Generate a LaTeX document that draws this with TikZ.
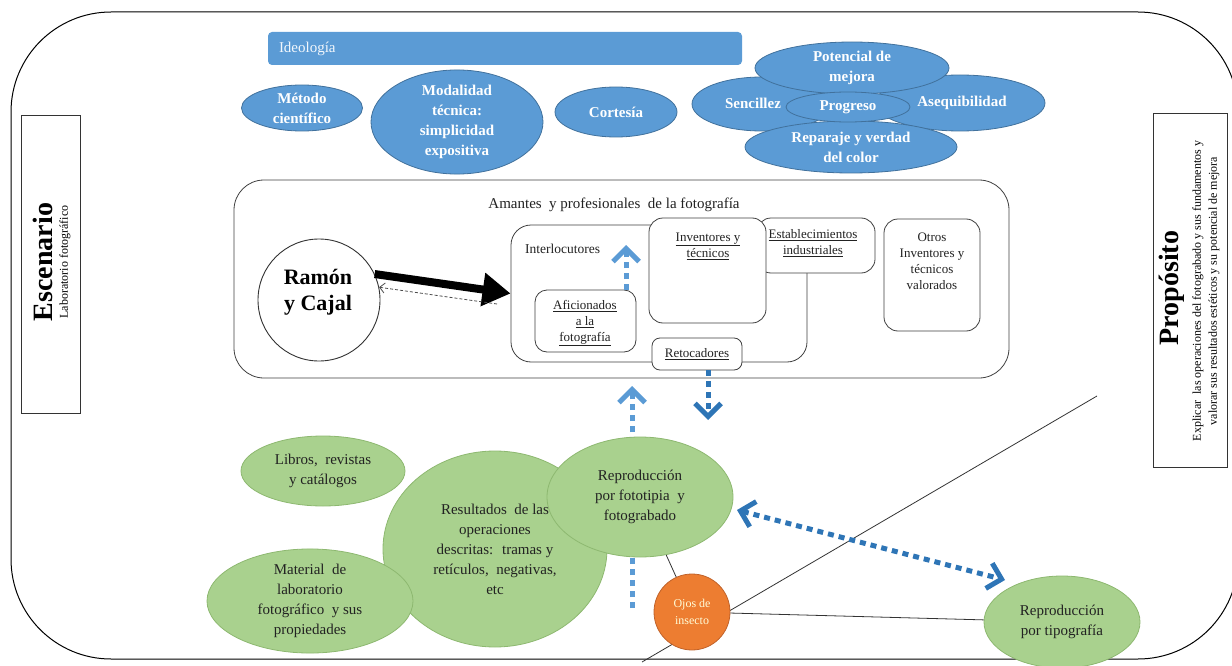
\documentclass[tikz,border=0pt]{standalone}
\usepackage{fontspec}
\setmainfont{Liberation Serif}
\usetikzlibrary{shapes.geometric,arrows.meta}
\definecolor{bfill}{HTML}{5B9BD5}
\definecolor{bline}{HTML}{41719C}
\definecolor{barrow}{HTML}{2E75B6}
\definecolor{lbarrow}{HTML}{5B9BD5}
\definecolor{gfill}{HTML}{A9D18E}
\definecolor{gline}{HTML}{8DB870}
\definecolor{ofill}{HTML}{ED7D31}
\definecolor{oline}{HTML}{C0622A}
\definecolor{ink}{HTML}{222222}
\newcommand\fsz[2]{\fontsize{#1}{#2}\selectfont}
\tikzset{Chev/.tip={Straight Barb[length=13pt, width=26pt]}}
\begin{document}
\begin{tikzpicture}[x=1pt,y=-1pt,
  blueell/.style={ellipse, draw=bline, line width=0.8pt, fill=bfill, text=white,
    font=\bfseries\fsz{15}{20}, align=center, inner sep=0pt},
  greenell/.style={ellipse, draw=gline, line width=0.8pt, fill=gfill, text=ink,
    font=\fsz{15}{20}, align=center, inner sep=0pt},
  box/.style={draw=black!75, fill=white, rounded corners=14pt, line width=0.8pt,
    inner sep=0pt},
  boxtext/.style={font=\fsz{13}{16}, text=ink, align=center, inner sep=0pt},
  sidebox/.style={draw=black!80, line width=0.8pt, fill=white, inner sep=0pt},
  dashblue/.style={line width=5pt, dash pattern=on 6pt off 5pt},
  thin/.style={draw=black!80, line width=0.8pt}]
\useasboundingbox (0,0) rectangle (1232,666);

% outer frame
\draw[line width=1pt, rounded corners=100pt] (11,12) rectangle (1238,659);

% side panels
\node[sidebox, minimum width=59pt, minimum height=298pt] (escbox) at (50.5,264) {};
\node[rotate=90, font=\bfseries\fsz{28}{30}, inner sep=0pt] (esct) at (43,262) {Escenario};
\node[rotate=90, font=\fsz{12}{14}, inner sep=0pt] (escs) at (65,262) {Laboratorio fotográfico};

\node[sidebox, minimum width=74pt, minimum height=354pt] (probox) at (1190,290) {};
\node[rotate=90, font=\bfseries\fsz{28}{30}, inner sep=0pt] (prot) at (1172,288) {Propósito};
\node[rotate=90, font=\fsz{12}{16}, align=center, inner sep=0pt] (pros) at (1206,291)
  {Explicar \ las operaciones del fotograbado y sus fundamentos y\\valorar sus resultados estéticos y su potencial de mejora};

% ideology bar and its values
\node[fill=bfill, rounded corners=4pt, minimum height=33pt, text width=452pt,
  inner xsep=11pt, align=left, text=white!92!bfill, font=\fsz{15}{17}] (ideo) at (505,48.5) {Ideología};

\node[blueell, minimum width=121pt, minimum height=46pt] (met) at (302,108) {Método\\científico};
\node[blueell, minimum width=172pt, minimum height=90pt] (mod) at (457,122) {Modalidad\\técnica:\\simplicidad\\expositiva};
\node[blueell, minimum width=122pt, minimum height=50pt] (cor) at (616,112) {Cortesía};

\node[blueell, minimum width=140pt, minimum height=54pt] (sen) at (762,104) {};
\node[blueell, minimum width=170pt, minimum height=56pt] (ase) at (960,103) {};
\node[blueell, minimum width=194pt, minimum height=52pt] (pot) at (852,68) {Potencial de\\mejora};
\node[blueell, minimum width=212pt, minimum height=52pt] (rep) at (851,147) {Reparaje y verdad\\del color};
\node[blueell, minimum width=124pt, minimum height=30pt] (pro) at (848,107) {Progreso};
\node[text=white, font=\bfseries\fsz{15}{20}, inner sep=0pt] (sent) at (753,103) {Sencillez};
\node[text=white, font=\bfseries\fsz{15}{20}, inner sep=0pt] (aset) at (962,103) {Asequibilidad};

% community of photography
\node[box, rounded corners=30pt, minimum width=775pt, minimum height=198pt] (aman) at (621.5,279) {};
\node[font=\fsz{15}{17}, text=ink, inner sep=0pt] (amant) at (614,205) {Amantes \ y profesionales \ de la fotografía};

\node[draw=black!80, line width=0.9pt, fill=white, circle, minimum size=122pt, inner sep=0pt] (ramon) at (319,300) {};
\node[font=\bfseries\fsz{22}{26}, align=center, inner sep=0pt] (ramont) at (318,292) {Ramón\\y Cajal};

\node[box, rounded corners=20pt, minimum width=296pt, minimum height=137pt] (interl) at (659,293.5) {};
\node[boxtext, anchor=west, font=\fsz{13.5}{16}] (interlt) at (525,249) {Interlocutores};
\node[box, minimum width=118pt, minimum height=55pt] (estab) at (816,245.5) {};
\node[boxtext] (estabt) at (813,243) {\underline{Establecimientos}\\\underline{industriales}};
\node[box, minimum width=117pt, minimum height=105pt] (inven) at (707.5,270.5) {};
\node[boxtext] (invent) at (708,246) {\underline{Inventores y}\\\underline{técnicos}};
\node[box, minimum width=96pt, minimum height=112pt] (otros) at (932,275) {};
\node[boxtext] (otrost) at (932,261) {Otros\\Inventores y\\técnicos\\valorados};
\node[box, rounded corners=12pt, minimum width=101pt, minimum height=62pt] (afic) at (585.5,321) {};
\node[boxtext] (afict) at (585,323) {\underline{Aficionados}\\\underline{a la}\\\underline{fotografía}};
\node[box, rounded corners=8pt, minimum width=90pt, minimum height=32pt, font=\fsz{13}{16}, text=ink] (retoc) at (697,354) {\underline{Retocadores}};

% Ramón y Cajal and his interlocutors
\draw[line width=8pt, -{Triangle[length=28pt, width=32pt]}] (ramon.25) -- (interl.west);
\coordinate (back) at (497,304);
\draw[black!70, line width=0.8pt, dash pattern=on 3pt off 2pt, -{Straight Barb[length=5pt, width=10pt]}] (back) -- (ramon.12);

% arrows between the community and the results
\coordinate (afup0) at (626,290);
\coordinate (afup1) at (626,245);
\draw[lbarrow, dashblue, -Chev] (afup0) -- (afup1);
\coordinate (rdn0) at (708,370);
\coordinate (rdn1) at (708,420);
\draw[barrow, dashblue, -Chev] (rdn0) -- (rdn1);
\coordinate (vup0) at (632,608);
\coordinate (vup1) at (632,386);
\draw[lbarrow, dashblue, -Chev] (vup0) -- (vup1);

% thin links around the insect eyes
\coordinate (ln0) at (642,662);
\coordinate (ln1) at (1097,396);
\draw[thin] (ln0) -- (ln1);

% results of the operations
\node[greenell, minimum width=224pt, minimum height=196pt] (res) at (495,549)
  {Resultados \ de las\\operaciones\\descritas: \ tramas y\\retículos, \ negativas,\\etc};
\node[greenell, minimum width=164pt, minimum height=70pt] (lib) at (323,471) {Libros, \ revistas\\y catálogos};
\node[greenell, minimum width=206pt, minimum height=98pt] (mat) at (310,601)
  {Material \ de\\laboratorio\\fotográfico \ y sus\\propiedades};
\node[greenell, minimum width=186pt, minimum height=120pt] (fot) at (640,497)
  {Reproducción\\por fototipia \ y\\fotograbado};
\node[greenell, minimum width=156pt, minimum height=92pt] (tip) at (1062,622)
  {Reproducción\\por tipografía};
\node[circle, draw=oline, line width=0.8pt, fill=ofill, minimum size=76pt, inner sep=0pt,
  text=white!85!yellow, font=\fsz{12}{17}, align=center] (ojos) at (692,612) {Ojos de\\insecto};

\draw[thin] (fot) -- (ojos);
\draw[thin] (ojos) -- (tip);

\coordinate (dbl0) at (737,510);
\coordinate (dbl1) at (1005,580);
\draw[barrow, dashblue, Chev-Chev] (dbl0) -- (dbl1);
\end{tikzpicture}
\end{document}
